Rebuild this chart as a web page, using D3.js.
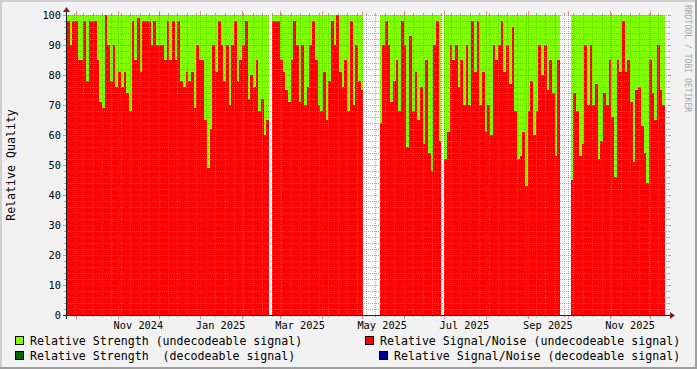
<!DOCTYPE html>
<html><head><meta charset="utf-8">
<script src="https://cdn.jsdelivr.net/npm/d3@7"></script>
<style>html,body{margin:0;padding:0;background:#f2f2f2;} svg{display:block}</style>
</head><body>
<script>
// ---------------- DATA ----------------
const startDate = "2024-09-24";   // first sample (UTC)
const stepDays = 2;               // one sample every 2 days
const snrUndecodeable = [
  98, 90, 98, 98, 85, 85, 98, 78, 98, 98,
  98, 85, 71, 69, 100, 90, 78, 90, 76, 81,
  76, 81, 74, 68, 98, 85, 99, 81, 98, 98,
  98, 90, 98, 90, 90, 90, 85, 98, 85, 98,
  85, 98, 78, 76, 81, 78, 81, 69, 90, 85,
  85, 65, 49, 62, 90, 81, 98, 90, 78, 90,
  70, 90, 98, 78, 85, 90, 98, 72, 80, 76,
  85, 68, 72, 60, 65, null, 98, 98, 98, 85,
  81, 75, 71, 85, 98, 90, 71, 90, 70, 76,
  90, 98, 85, 70, 68, 81, 65, 78, 98, 90,
  100, 81, 76, 85, 68, 98, 70, 90, 78, 75,
  null, null, null, null, null, null, 64, 90, 98, 90,
  71, 78, 85, 68, 98, 90, 56, 93, 68, 81,
  65, 76, 57, 85, 54, 48, 90, 98, 58, null,
  52, 61, 90, 85, 90, 76, 85, 70, 90, 70,
  98, 81, 98, 70, 81, 61, 70, 60, 90, 85,
  90, 98, 81, 90, 77, 96, 68, 52, 53, 61,
  43, 68, 78, 60, 68, 90, 80, 90, 75, 85,
  74, 53, 85, null, null, null, null, 45, 74, 68,
  53, 57, 90, 70, 90, 70, 77, 52, 58, 74,
  70, 85, 66, 46, 85, 81, 98, 81, 85, 71,
  51, 75, 76, 63, 54, 44, 85, 74, 65, 90,
  75, 70
];
const strengthUndecodeable = [
  100,100,100,100,100,100,100,100,100,100,
  100,100,100,100,100,100,100,100,100,100,
  100,100,100,100,100,100,100,100,100,100,
  100,100,100,100,100,100,100,100,100,100,
  100,100,100,100,100,100,100,100,100,100,
  100,100,100,100,100,100,100,100,100,100,
  100,100,100,100,100,100,100,100,100,100,
  100,100,100,100,100,null,100,100,100,100,
  100,100,100,100,100,100,100,100,100,100,
  100,100,100,100,100,100,100,100,100,100,
  100,100,100,100,100,100,100,100,100,100,
  null,null,null,null,null,null,100,100,100,100,
  100,100,100,100,100,100,100,100,100,100,
  100,100,100,100,100,100,100,100,100,null,
  100,100,100,100,100,100,100,100,100,100,
  100,100,100,100,100,100,100,100,100,100,
  100,100,100,100,100,100,100,100,100,100,
  100,100,100,100,100,100,100,100,100,100,
  100,100,100,null,null,null,null,100,100,100,
  100,100,100,100,100,100,100,100,100,100,
  100,100,100,100,100,100,100,100,100,100,
  100,100,100,100,100,100,100,100,100,100,
  100,100
];
const strengthDecodeable = [];   // no decodeable samples in this period
const snrDecodeable = [];
const yTickValues = [0, 10, 20, 30, 40, 50, 60, 70, 80, 90, 100];
const xLabelMonths = ["2024-11-01", "2025-01-01", "2025-03-01", "2025-05-01", "2025-07-01", "2025-09-01", "2025-11-01"];
const legendNames = [
  "Relative Strength (undecodeable signal)",
  "Relative Signal/Noise (undecodeable signal)",
  "Relative Strength  (decodeable signal)",
  "Relative Signal/Noise (decodeable signal)"
];
const legendColors = ["#80ff00", "#ff0000", "#006600", "#000099"];
const yTitle = "Relative Quality";
const watermark = "RRDTOOL / TOBI OETIKER";

// ---------------- LAYOUT ----------------
const W = 697, H = 369;
const X0 = 67, X1 = 667, YT = 15, YB = 315;
const MONO = "'DejaVu Sans Mono', monospace";
const GRID = "rgba(143,143,143,0.75)", MGRID = "rgba(222,79,79,0.6)";

const svg = d3.select("body").append("svg").attr("width", W).attr("height", H);
svg.append("rect").attr("width", W).attr("height", H).attr("fill", "#f2f2f2");
// 3D border
svg.append("rect").attr("x", 0).attr("y", 0).attr("width", W).attr("height", 2).attr("fill", "#cfcfcf");
svg.append("rect").attr("x", 0).attr("y", 0).attr("width", 2).attr("height", H).attr("fill", "#cfcfcf");
svg.append("rect").attr("x", 0).attr("y", H - 2).attr("width", W).attr("height", 2).attr("fill", "#9e9e9e");
svg.append("rect").attr("x", W - 2).attr("y", 0).attr("width", 2).attr("height", H).attr("fill", "#9e9e9e");

const t0 = new Date(startDate + "T00:00:00Z");
const x = d3.scaleUtc().domain([t0, new Date(Date.UTC(2025, 11, 13, 10))]).range([X0, X1]);
const y = d3.scaleLinear().domain([0, 100]).range([YB, YT]);

// canvas
svg.append("rect").attr("x", X0).attr("y", YT).attr("width", X1 - X0).attr("height", YB - YT).attr("fill", "#fff");

const dateAt = i => d3.utcDay.offset(t0, i * stepDays);
function drawSeries(values, color) {
  const g = svg.append("g").attr("shape-rendering", "crispEdges");
  values.forEach((v, i) => {
    if (v == null) return;
    const a = Math.max(X0, Math.round(x(dateAt(i))));
    const b = Math.min(X1, Math.round(x(dateAt(i + 1))));
    if (b <= a) return;
    g.append("rect").attr("x", a).attr("width", b - a)
      .attr("y", Math.round(y(v))).attr("height", YB - Math.round(y(v)))
      .attr("fill", color);
  });
}
drawSeries(strengthUndecodeable, legendColors[0]);
drawSeries(strengthDecodeable, legendColors[2]);
drawSeries(snrUndecodeable, legendColors[1]);
drawSeries(snrDecodeable, legendColors[3]);

// grid
const grid = svg.append("g").attr("shape-rendering", "crispEdges").attr("stroke-width", 1);
// minor horizontal
d3.range(2, 100, 2).filter(v => v % 10 !== 0).forEach(v => {
  const yy = Math.round(y(v)) + 0.5;
  grid.append("line").attr("x1", X0 - 1).attr("x2", X1 + 1).attr("y1", yy).attr("y2", yy)
    .attr("stroke", GRID).attr("stroke-dasharray", "1,1");
  grid.append("line").attr("x1", X0 - 3).attr("x2", X0 - 1).attr("y1", yy).attr("y2", yy).attr("stroke", GRID);
  grid.append("line").attr("x1", X1 + 1).attr("x2", X1 + 3).attr("y1", yy).attr("y2", yy).attr("stroke", GRID);
});
// minor vertical (weekly)
const months = d3.utcMonth.range(x.domain()[0], x.domain()[1]);
const monthKeys = new Set(months.map(d => +d));
d3.utcSunday.range(x.domain()[0], x.domain()[1]).forEach(d => {
  const xx = Math.round(x(d)) + 0.5;
  grid.append("line").attr("x1", xx).attr("x2", xx).attr("y1", YT).attr("y2", YB)
    .attr("stroke", GRID).attr("stroke-dasharray", "1,1");
  grid.append("line").attr("x1", xx).attr("x2", xx).attr("y1", YB).attr("y2", YB + 2).attr("stroke", GRID);
  grid.append("line").attr("x1", xx).attr("x2", xx).attr("y1", YT - 2).attr("y2", YT).attr("stroke", GRID);
});
// major horizontal
yTickValues.forEach(v => {
  const yy = Math.round(y(v)) + 0.5;
  grid.append("line").attr("x1", X0 - 1).attr("x2", X1 + 1).attr("y1", yy).attr("y2", yy)
    .attr("stroke", MGRID).attr("stroke-dasharray", "1,1");
  grid.append("line").attr("x1", X0 - 4).attr("x2", X0 - 1).attr("y1", yy).attr("y2", yy).attr("stroke", MGRID);
  grid.append("line").attr("x1", X1 + 1).attr("x2", X1 + 4).attr("y1", yy).attr("y2", yy).attr("stroke", MGRID);
});
// major vertical (monthly)
months.forEach(d => {
  const xx = Math.round(x(d)) + 0.5;
  grid.append("line").attr("x1", xx).attr("x2", xx).attr("y1", YT).attr("y2", YB)
    .attr("stroke", MGRID).attr("stroke-dasharray", "1,1");
  grid.append("line").attr("x1", xx).attr("x2", xx).attr("y1", YB).attr("y2", YB + 4).attr("stroke", MGRID);
  grid.append("line").attr("x1", xx).attr("x2", xx).attr("y1", YT - 4).attr("y2", YT).attr("stroke", MGRID);
});

// axes
const ax = svg.append("g").attr("shape-rendering", "crispEdges");
ax.append("line").attr("x1", X0 - 4).attr("x2", X1 + 4).attr("y1", YB + 0.5).attr("y2", YB + 0.5).attr("stroke", "#1f1f1f");
ax.append("line").attr("x1", X0 - 0.5).attr("x2", X0 - 0.5).attr("y1", YB + 4).attr("y2", YT - 4).attr("stroke", "#1f1f1f");
svg.append("path").attr("d", `M${X1 + 8},${YB + 0.5} L${X1 + 3},${YB - 3} L${X1 + 3},${YB + 4} Z`).attr("fill", "#801f1f");
svg.append("path").attr("d", `M${X0 - 0.5},${YT - 8} L${X0 - 4},${YT - 3} L${X0 + 3},${YT - 3} Z`).attr("fill", "#801f1f");

// y labels
svg.append("g").selectAll("text").data(yTickValues).join("text")
  .attr("x", X0 - 6).attr("y", v => y(v) + 3.7)
  .attr("text-anchor", "end").attr("font-family", MONO).attr("font-size", "10.3px").attr("fill", "#000")
  .text(v => d3.format("d")(v));

// x labels (centered half a month after tick, rrdtool style)
const fmt = d3.utcFormat("%b %Y");
svg.append("g").selectAll("text").data(xLabelMonths.map(s => new Date(s + "T00:00:00Z"))).join("text")
  .attr("x", d => x(d3.utcDay.offset(d, 15))).attr("y", 328.5)
  .attr("text-anchor", "middle").attr("font-family", MONO).attr("font-size", "10.3px").attr("fill", "#000")
  .text(d => fmt(d));

// y title
svg.append("text").attr("transform", "translate(15,165) rotate(-90)")
  .attr("text-anchor", "middle").attr("font-family", MONO).attr("font-size", "11.6px").attr("fill", "#000")
  .text(yTitle);

// watermark
svg.append("text").attr("transform", "translate(685,5) rotate(90)")
  .attr("text-anchor", "start").attr("font-family", MONO).attr("font-size", "8.1px").attr("fill", "#a9a9a9")
  .text(watermark);

// legend
const legPos = [
  {bx: 15, tx: 30, y: 336},
  {bx: 365, tx: 380, y: 336},
  {bx: 15, tx: 30, y: 351},
  {bx: 379, tx: 394, y: 351}
];
legendNames.forEach((name, i) => {
  const p = legPos[i];
  svg.append("rect").attr("x", p.bx + 0.5).attr("y", p.y + 0.5).attr("width", 8).attr("height", 8)
    .attr("fill", legendColors[i]).attr("stroke", "#000").attr("shape-rendering", "crispEdges");
  svg.append("text").attr("x", p.tx).attr("y", p.y + 9).attr("font-family", MONO)
    .attr("font-size", "11.6px").attr("fill", "#000").attr("xml:space", "preserve")
    .style("white-space", "pre").text(name);
});
</script>
</body></html>
